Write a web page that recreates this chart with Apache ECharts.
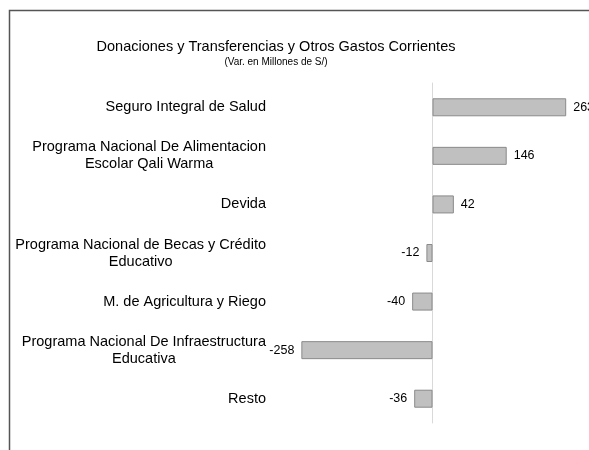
<!DOCTYPE html>
<html>
<head>
<meta charset="utf-8">
<script src="https://cdn.jsdelivr.net/npm/echarts@6/dist/echarts.min.js"></script>
<style>
html, body { margin: 0; padding: 0; background: #fff; }
#main { width: 589px; height: 450px; }
</style>
</head>
<body>
<div id="main"></div>
<script>
// categories, top to bottom
const categories = [
  'Seguro Integral de Salud',
  'Programa Nacional De Alimentacion\nEscolar Qali Warma',
  'Devida',
  'Programa Nacional de Becas y Crédito\nEducativo',
  'M. de Agricultura y Riego',
  'Programa Nacional De Infraestructura\nEducativa',
  'Resto'
];
const values = [263, 146, 42, -12, -40, -258, -36];

let chartDom = document.getElementById('main');
let myChart = echarts.init(chartDom);

let option = {
  backgroundColor: '#fff',
  textStyle: { fontFamily: 'Liberation Sans, Arial, sans-serif' },
  title: {
    text: 'Donaciones y Transferencias y Otros Gastos Corrientes',
    subtext: '(Var. en Millones de S/)',
    left: 271,
    textAlign: 'center',
    top: 34,
    itemGap: 3,
    textStyle: { fontSize: 14.5, fontWeight: 'normal', color: '#000' },
    subtextStyle: { fontSize: 10, color: '#000' }
  },
  graphic: [{
    type: 'rect',
    left: 7,
    top: 8,
    shape: { width: 620, height: 480 },
    style: { fill: 'none', stroke: '#555', lineWidth: 1.5 },
    silent: true
  }],
  grid: { left: 280, right: 4, top: 83, bottom: 27, containLabel: false },
  xAxis: {
    type: 'value',
    min: -300,
    max: 300,
    show: false
  },
  yAxis: {
    type: 'category',
    data: categories,
    inverse: true,
    axisLine: { onZero: true, lineStyle: { color: '#d9d9d9', width: 1 } },
    axisTick: { show: false },
    axisLabel: {
      margin: 14,
      color: '#000',
      fontSize: 14.5,
      lineHeight: 17,
      formatter: function (v) {
        return v.split('\n').map(s => '{c|' + s + '}').join('\n');
      },
      rich: { c: { align: 'center', fontSize: 14.5, lineHeight: 17, color: '#000' } }
    }
  },
  series: [{
    type: 'bar',
    data: values.map(v => ({
      value: v,
      label: { position: v >= 0 ? 'right' : 'left' }
    })),
    barWidth: 18,
    itemStyle: { color: '#c0c0c0', borderColor: '#8a8a8a', borderWidth: 1 },
    label: { show: true, color: '#000', fontSize: 12.5, distance: 7 },
    animation: false
  }]
};
option && myChart.setOption(option);
</script>
</body>
</html>
